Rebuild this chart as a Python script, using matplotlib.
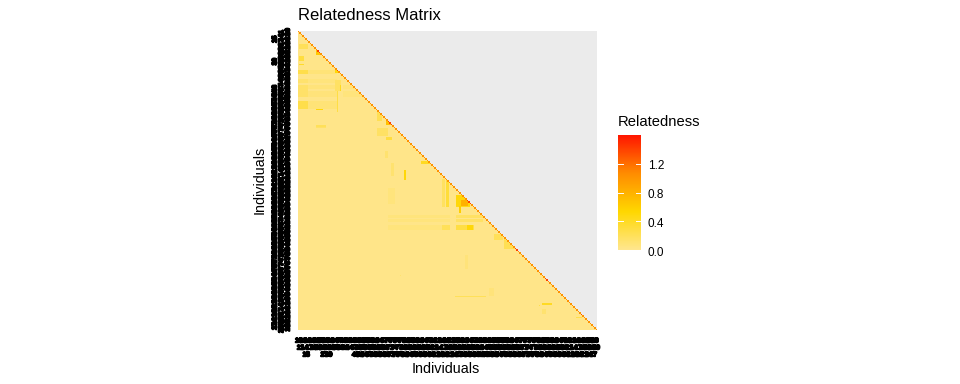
import matplotlib
matplotlib.use("Agg")
import matplotlib.pyplot as plt
import matplotlib.patheffects as pe
from matplotlib.colors import LinearSegmentedColormap
from matplotlib.transforms import ScaledTranslation
import numpy as np

plt.rcParams["font.family"] = ["Liberation Sans", "DejaVu Sans"]

n_ind = 200
background = 0.02
diagonal = 1.02
diagonal_high = 1.4
high_diag = [13, 14, 26, 60, 61, 62, 113, 114, 115, 145, 146, 165, 166, 189]
scale_max = 1.6

# related groups, as individual index ranges (row 0 is the top)
row_from = [9, 17, 22, 26, 32, 36, 40, 47, 33, 36, 25, 52, 63, 13, 54, 60, 65, 71,
            99, 99, 110, 113, 116, 117, 123, 126, 130, 130, 130, 87, 136, 139,
            93, 80, 88, 63, 177, 163, 183, 182, 186, 191, 40,
            26, 32, 36, 40, 47, 36, 40, 123, 126, 130, 105, 150, 172]
row_to = [11, 19, 22, 28, 34, 39, 43, 51, 39, 39, 27, 52, 64, 15, 59, 62, 69, 72,
          117, 117, 116, 116, 117, 121, 124, 127, 132, 132, 132, 88, 139, 145,
          99, 84, 96, 63, 177, 163, 183, 182, 188, 191, 53,
          28, 34, 38, 43, 51, 38, 43, 124, 127, 132, 115, 158, 176]
col_from = [1, 1, 1, 0, 0, 0, 0, 0, 25, 28, 25, 12, 12, 12, 53, 59, 53, 59,
            96, 99, 106, 109, 106, 108, 106, 106, 106, 113, 96, 82, 131, 138,
            71, 58, 62, 12, 105, 68, 161, 163, 163, 186, 26,
            6, 6, 6, 6, 6, 30, 30, 60, 60, 60, 60, 112, 128]
col_to = [6, 3, 3, 6, 6, 6, 6, 6, 28, 28, 26, 16, 18, 14, 55, 61, 59, 62,
          97, 100, 114, 113, 114, 108, 123, 123, 117, 116, 101, 87, 136, 145,
          71, 59, 63, 18, 125, 68, 161, 169, 165, 189, 26,
          25, 25, 25, 25, 25, 45, 45, 101, 101, 101, 64, 113, 130]
group_value = [0.2, 0.3, 0.38, 0.25, 0.13, 0.15, 0.15, 0.26, 0.16, 0.42, 0.5, 0.5, 0.15, 0.65,
               0.22, 0.7, 0.16, 0.3,
               0.17, 0.32, 0.5, 0.8, 0.45, 0.6, 0.16, 0.16, 0.28, 0.5, 0.2, 0.4, 0.2, 0.22,
               0.5, 0.12, 0.12, 0.2, 0.2, 0.12, 0.25, 0.4, 0.12, 0.25, 0.28,
               0.09, 0.07, 0.08, 0.08, 0.09, 0.07, 0.07, 0.07, 0.07, 0.07, 0.07, 0.08, 0.08]

# labels that stay empty in the outer dodged row
x_blank = [2, 8, 11, 14, 23, 26, 29, 32, 35]
y_blank = [2, 8, 11, 14, 17, 23, 26, 29, 32, 35]
ind_labels = [str(10 + i % 90) for i in range(n_ind)]

rel = np.full((n_ind, n_ind), background)
for k in np.argsort(group_value):
    rel[row_from[k]:row_to[k] + 1, col_from[k]:col_to[k] + 1] = group_value[k]
rel[np.triu_indices(n_ind, 1)] = np.nan
rel[np.diag_indices(n_ind)] = diagonal
rel[high_diag, high_diag] = diagonal_high

cmap = LinearSegmentedColormap.from_list("rel", ["#FFE68F", "#FFD700", "#FF8C00", "#FF1500"])
cmap.set_bad("#EBEBEB")

fig = plt.figure(figsize=(9.6, 3.84), dpi=100)
ax = fig.add_axes([298 / 960, 1 - 330 / 384, 299 / 960, 299 / 384])
im = ax.imshow(rel, cmap=cmap, vmin=0, vmax=scale_max, aspect="auto", interpolation="nearest")
for s in ax.spines.values():
    s.set_visible(False)

ax.set_xticks(range(n_ind))
ax.set_yticks(range(n_ind))
x_labels = ["" if i in x_blank else lab for i, lab in enumerate(ind_labels)]
y_labels = ["" if i in y_blank else lab for i, lab in enumerate(ind_labels)]
ax.set_xticklabels(x_labels, fontsize=4.6, color="black")
ax.set_yticklabels(y_labels, fontsize=4.6, color="black", rotation=90, va="center")
ax.tick_params(length=0)
# three dodged rows of labels on both axes, heavy enough to clot together like the original
for i, t in enumerate(ax.xaxis.get_major_ticks()):
    t.set_pad(6.0 + (i % 3) * 5.04)
    t.label1.set_path_effects([pe.withStroke(linewidth=1.3, foreground="black")])
for i, t in enumerate(ax.yaxis.get_major_ticks()):
    t.set_pad(5.4 + (i % 3) * 4.7)
    t.label1.set_path_effects([pe.withStroke(linewidth=1.3, foreground="black")])

fig.text(298 / 960, 1 - 20 / 384, "Relatedness Matrix", fontsize=12.0, ha="left", va="baseline")
fig.text(446 / 960, 1 - 369 / 384, "Individuals", fontsize=10.4, ha="center", va="center")
fig.text(260 / 960, 1 - 180 / 384, "Individuals", fontsize=10.4, ha="center", va="center", rotation=90)

cax = fig.add_axes([618 / 960, 1 - 250 / 384, 23 / 960, 115 / 384])
cbar = fig.colorbar(im, cax=cax)
cbar.outline.set_visible(False)
cbar.set_ticks([0.0, 0.4, 0.8, 1.2])
cbar.set_ticklabels(["0.0", "0.4", "0.8", "1.2"], fontsize=8.5)
cax.tick_params(length=0, pad=5)
cax.set_ylim(0, scale_max)
label_shift = ScaledTranslation(0, -1 / 100, fig.dpi_scale_trans)
for lab in cax.get_yticklabels():
    lab.set_transform(lab.get_transform() + label_shift)
for v in [0.4, 0.8, 1.2]:
    cax.plot([0, 0.2], [v, v], color="white", lw=0.7, transform=cax.get_yaxis_transform())
    cax.plot([0.8, 1], [v, v], color="white", lw=0.7, transform=cax.get_yaxis_transform())
fig.text(618 / 960, 1 - 126 / 384, "Relatedness", fontsize=10.6, ha="left", va="baseline")

fig.savefig("out.png", dpi=100)
